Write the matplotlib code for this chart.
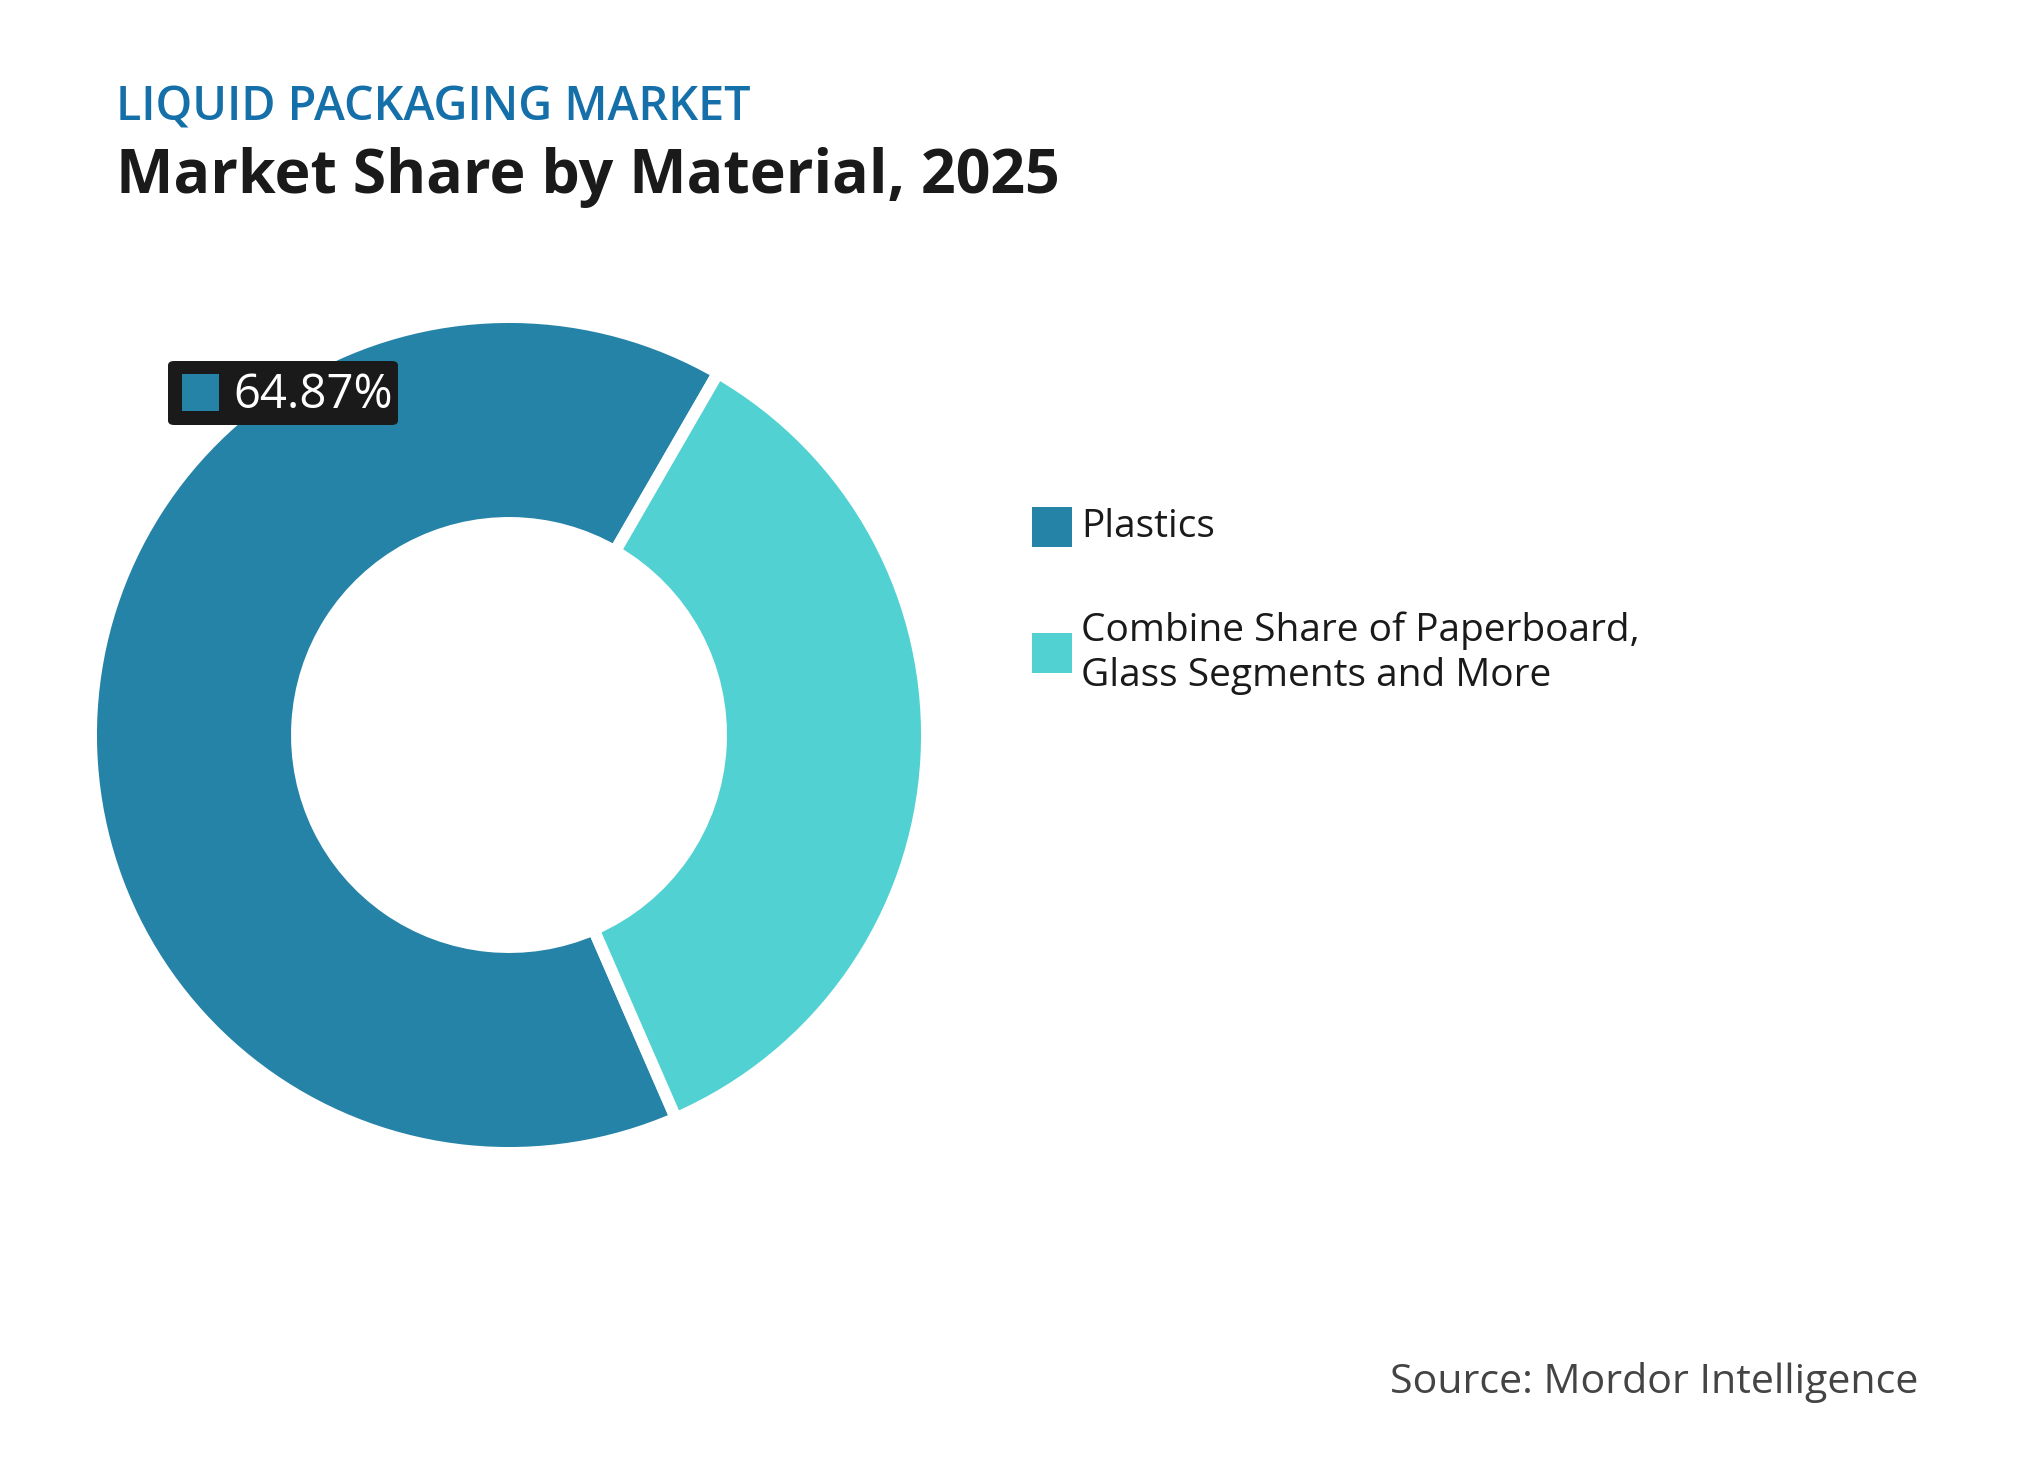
import matplotlib
matplotlib.use("Agg")
import matplotlib.pyplot as plt
from matplotlib.patches import Rectangle, FancyBboxPatch

# ==========================
# Data
# ==========================

labels = ["Plastics", "Combine Share of Paperboard,\nGlass Segments and More"]
shares = [64.87, 35.13]
colors = ["#2683A8", "#52D1D3"]

W, H = 2035, 1480
plt.rcParams["font.family"] = ["Open Sans", "DejaVu Sans"]

fig = plt.figure(figsize=(W / 100, H / 100), dpi=100)
fig.patch.set_facecolor("white")


def fx(px):
    return px / W


def fy(py):
    # py measured from top of image
    return 1 - py / H


# ==========================
# Donut
# ==========================

cx, cy, half = 509, 735, 450
ax = fig.add_axes([fx(cx - half), fy(cy + half), 2 * half / W, 2 * half / H])

r_out = 418 / half
r_in = 212 / half
wedges, _ = ax.pie(
    shares,
    colors=colors,
    startangle=60,
    counterclock=True,
    radius=r_out,
    wedgeprops=dict(width=r_out - r_in, edgecolor="white", linewidth=8.6),
)
ax.set_xlim(-1, 1)
ax.set_ylim(-1, 1)
ax.set_aspect("equal")
ax.axis("off")

# ==========================
# Titles
# ==========================

fig.text(fx(116), fy(120), "LIQUID PACKAGING MARKET", color="#1570AA",
         fontsize=33.7, fontweight="semibold", va="baseline", ha="left")
fig.text(fx(116), fy(193), "Market Share by Material, 2025", color="#1a1a1a",
         fontsize=43.8, fontweight="bold", va="baseline", ha="left")

# ==========================
# Value label
# ==========================

box = FancyBboxPatch((fx(168), fy(425)), fx(398 - 168), (425 - 361) / H,
                     boxstyle="round,pad=0,rounding_size=0.003",
                     transform=fig.transFigure, facecolor="#1a1a1a",
                     edgecolor="none", zorder=5)
fig.patches.append(box)
fig.patches.append(Rectangle((fx(182), fy(411)), fx(37), 37 / H,
                             transform=fig.transFigure, facecolor=colors[0],
                             edgecolor="none", zorder=6))
fig.text(fx(233), fy(408), f"{shares[0]:.2f}%", color="white", fontsize=34,
         va="baseline", ha="left", zorder=7)

# ==========================
# Legend
# ==========================

leg_y = [527, 653]
for lab, col, yc in zip(labels, colors, leg_y):
    fig.patches.append(Rectangle((fx(1032), fy(yc + 20)), fx(40), 40 / H,
                                 transform=fig.transFigure, facecolor=col,
                                 edgecolor="none"))
    fig.text(fx(1081), fy(yc), lab, color="#1a1a1a", fontsize=28,
             va="center", ha="left", linespacing=1.25)

# ==========================
# Source
# ==========================

fig.text(fx(1918), fy(1393), "Source: Mordor Intelligence", color="#444444",
         fontsize=29.6, va="baseline", ha="right")

plt.savefig("out.png", dpi=100, facecolor="white")
plt.close()
